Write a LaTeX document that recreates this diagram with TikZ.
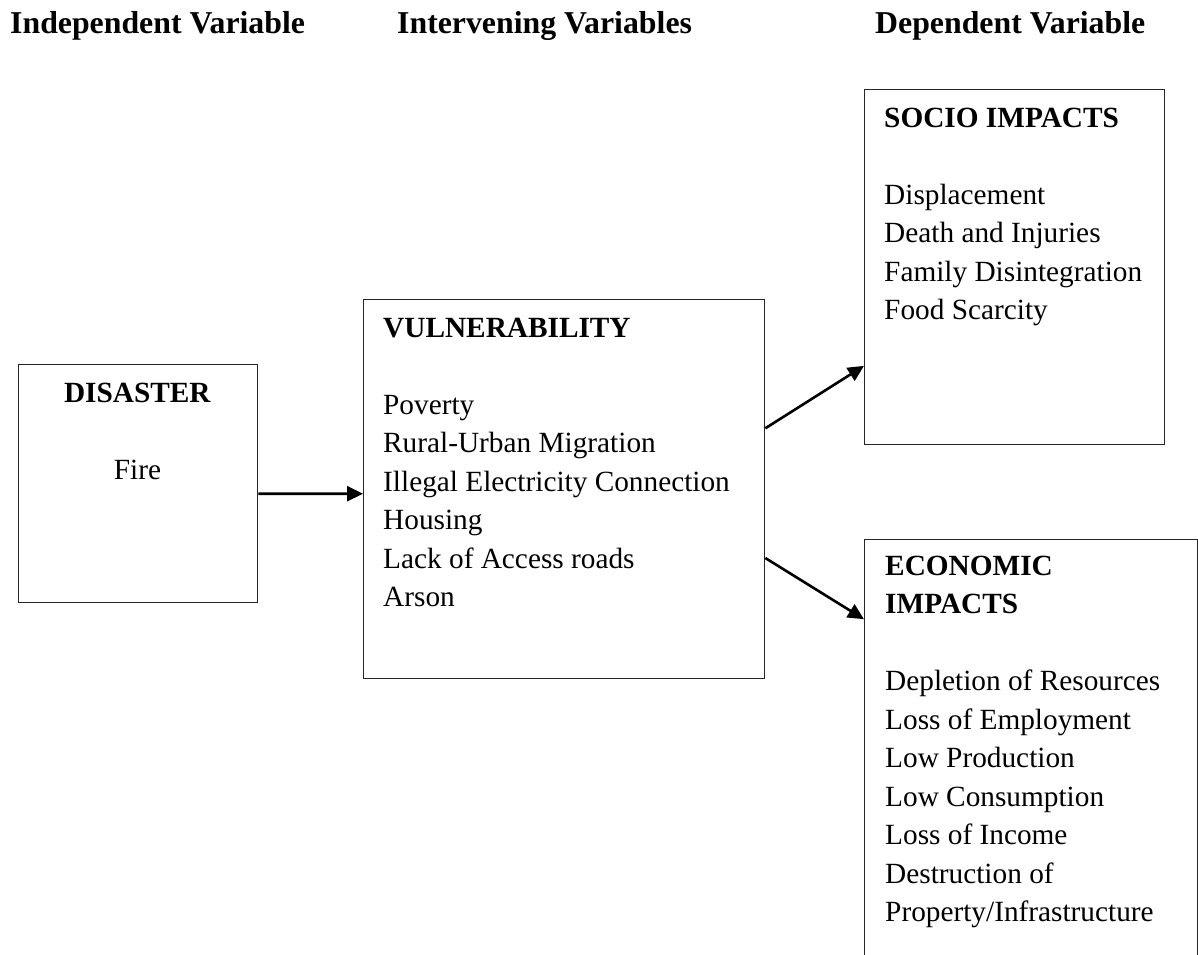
\documentclass[tikz,border=0pt]{standalone}
\usepackage{fontspec}
\setmainfont{Liberation Serif}
\usetikzlibrary{arrows.meta,calc}
\begin{document}
\begin{tikzpicture}[x=1pt,y=-1pt,
  box/.style={draw=black!85, line width=1.3pt, rectangle, inner sep=0pt, anchor=north west},
  conn/.style={line width=2.6pt, -{Triangle[length=16pt,width=15pt]}},
  body/.style={anchor=base west, inner sep=0pt, font=\fontsize{29.3}{38.5}\selectfont},
  hdr/.style={anchor=base west, inner sep=0pt, font=\fontsize{31.8}{38}\selectfont\bfseries}]
\useasboundingbox (0,0) rectangle (1198,954);
\clip (0,0) rectangle (1198,954);

% headers
\node[hdr] (h1) at (10,33) {Independent Variable};
\node[hdr] (h2) at (397,33) {Intervening Variables};
\node[hdr] (h3) at (875,33) {Dependent Variable};

% boxes
\node[box, minimum width=239pt, minimum height=238pt] (dis) at (18,364) {};
\node[box, minimum width=401pt, minimum height=379pt] (vul) at (363,299) {};
\node[box, minimum width=300pt, minimum height=355pt] (soc) at (864,89) {};
\node[box, minimum width=333pt, minimum height=461pt] (eco) at (864,539) {};

% texts
\node[body, anchor=base] (dist) at (137.5,402) {\begin{tabular}[t]{@{}c@{}}\textbf{DISASTER}\\ \\ Fire\end{tabular}};
\node[body] (vult) at (383,337) {\begin{tabular}[t]{@{}l@{}}\textbf{VULNERABILITY}\\ \\ Poverty\\ Rural-Urban Migration\\ Illegal Electricity Connection\\ Housing\\ Lack of Access roads\\ Arson\end{tabular}};
\node[body] (soct) at (884,127) {\begin{tabular}[t]{@{}l@{}}\textbf{SOCIO IMPACTS}\\ \\ Displacement\\ Death and Injuries\\ Family Disintegration\\ Food Scarcity\end{tabular}};
\node[body] (ecot) at (885,575) {\begin{tabular}[t]{@{}l@{}}\textbf{ECONOMIC}\\ \textbf{IMPACTS}\\ \\ Depletion of Resources\\ Loss of Employment\\ Low Production\\ Low Consumption\\ Loss of Income\\ Destruction of\\ Property/Infrastructure\end{tabular}};

% connectors
\draw[conn] ($(dis.north east)!0.542!(dis.south east)$) -- ($(vul.north west)!0.512!(vul.south west)$);
\draw[conn] ($(vul.north east)!0.340!(vul.south east)$) -- ($(soc.north west)!0.777!(soc.south west)$);
\draw[conn] ($(vul.north east)!0.681!(vul.south east)$) -- ($(eco.north west)!0.1735!(eco.south west)$);
\end{tikzpicture}
\end{document}
